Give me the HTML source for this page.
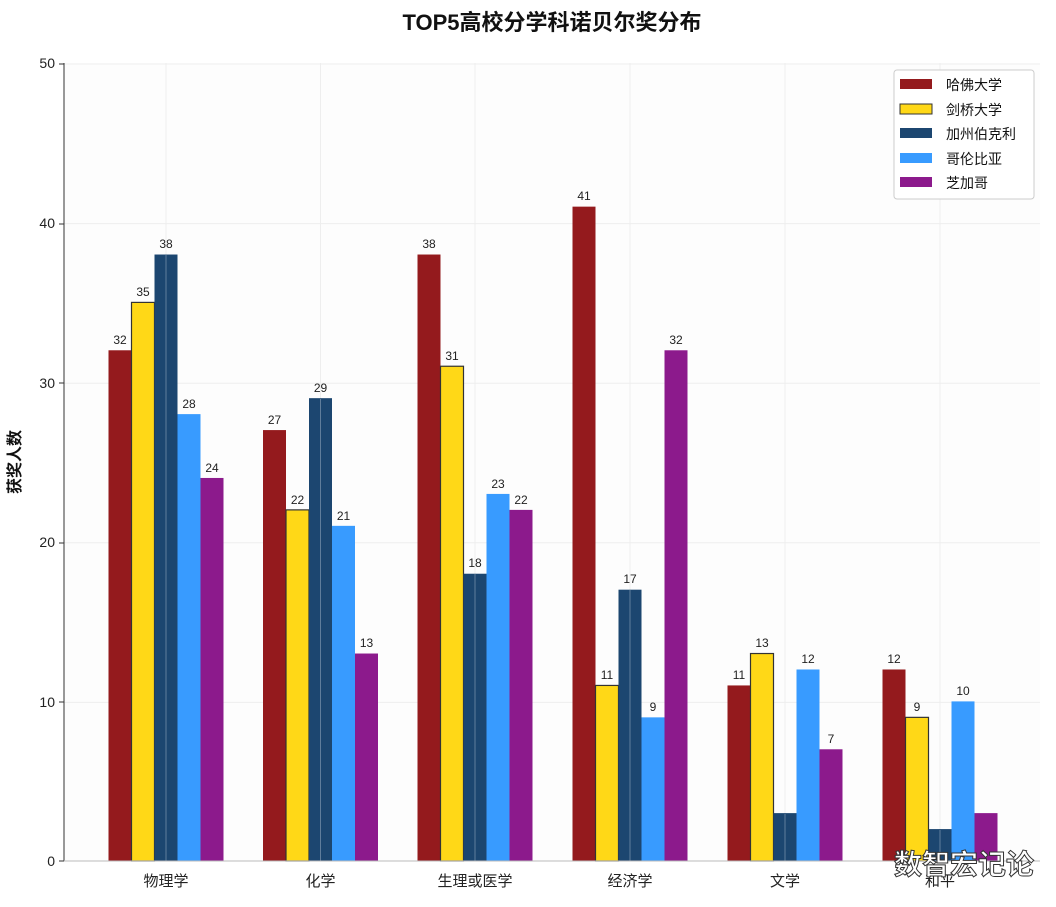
<!DOCTYPE html>
<html><head><meta charset="utf-8"><style>
body{margin:0;background:#fff;}
text{font-family:"Liberation Sans","Noto Sans CJK SC",sans-serif;}
</style></head><body>
<svg width="1056" height="902" xmlns="http://www.w3.org/2000/svg">
<rect width="1056" height="902" fill="#fff"/>
<rect x="64" y="63" width="976" height="798" fill="#fdfdfd"/>
<g stroke="#eeeeee" stroke-width="1">
<line x1="64" x2="1040" y1="702.4" y2="702.4"/><line x1="64" x2="1040" y1="542.8" y2="542.8"/><line x1="64" x2="1040" y1="383.2" y2="383.2"/><line x1="64" x2="1040" y1="223.6" y2="223.6"/><line x1="64" x2="1040" y1="64" y2="64"/>
<line x1="166" x2="166" y1="63" y2="861"/><line x1="320.5" x2="320.5" y1="63" y2="861"/><line x1="475" x2="475" y1="63" y2="861"/><line x1="630" x2="630" y1="63" y2="861"/><line x1="785" x2="785" y1="63" y2="861"/><line x1="940" x2="940" y1="63" y2="861"/>
</g>
<g fill="#941a1d">
<rect x="108.5" y="350.28" width="23" height="510.72"/>
<rect x="263" y="430.08" width="23" height="430.92"/>
<rect x="417.5" y="254.52" width="23" height="606.48"/>
<rect x="572.5" y="206.64" width="23" height="654.36"/>
<rect x="727.5" y="685.44" width="23" height="175.56"/>
<rect x="882.5" y="669.48" width="23" height="191.52"/>
</g>
<g fill="#ffd817" stroke="#333" stroke-width="1.2">
<rect x="131.5" y="302.4" width="23" height="558.6"/>
<rect x="286" y="509.88" width="23" height="351.12"/>
<rect x="440.5" y="366.24" width="23" height="494.76"/>
<rect x="595.5" y="685.44" width="23" height="175.56"/>
<rect x="750.5" y="653.52" width="23" height="207.48"/>
<rect x="905.5" y="717.36" width="23" height="143.64"/>
</g>
<g fill="#1c4670">
<rect x="154.5" y="254.52" width="23" height="606.48"/>
<rect x="309" y="398.16" width="23" height="462.84"/>
<rect x="463.5" y="573.72" width="23" height="287.28"/>
<rect x="618.5" y="589.68" width="23" height="271.32"/>
<rect x="773.5" y="813.12" width="23" height="47.88"/>
<rect x="928.5" y="829.08" width="23" height="31.92"/>
</g>
<g fill="#389bff">
<rect x="177.5" y="414.12" width="23" height="446.88"/>
<rect x="332" y="525.84" width="23" height="335.16"/>
<rect x="486.5" y="493.92" width="23" height="367.08"/>
<rect x="641.5" y="717.36" width="23" height="143.64"/>
<rect x="796.5" y="669.48" width="23" height="191.52"/>
<rect x="951.5" y="701.4" width="23" height="159.6"/>
</g>
<g fill="#8c1a8c">
<rect x="200.5" y="477.96" width="23" height="383.04"/>
<rect x="355" y="653.52" width="23" height="207.48"/>
<rect x="509.5" y="509.88" width="23" height="351.12"/>
<rect x="664.5" y="350.28" width="23" height="510.72"/>
<rect x="819.5" y="749.28" width="23" height="111.72"/>
<rect x="974.5" y="813.12" width="23" height="47.88"/>
</g>
<g stroke="#ffffff" stroke-opacity="0.3" stroke-width="1">
<line x1="166" x2="166" y1="255" y2="861"/><line x1="320.5" x2="320.5" y1="399" y2="861"/><line x1="475" x2="475" y1="574" y2="861"/><line x1="630" x2="630" y1="590" y2="861"/><line x1="785" x2="785" y1="814" y2="861"/><line x1="940" x2="940" y1="830" y2="861"/>
</g>
<g font-size="12" fill="#222" text-anchor="middle">
<text x="120" y="344">32</text><text x="143" y="296">35</text><text x="166" y="248">38</text><text x="189" y="408">28</text><text x="212" y="472">24</text>
<text x="274.5" y="424">27</text><text x="297.5" y="504">22</text><text x="320.5" y="392">29</text><text x="343.5" y="520">21</text><text x="366.5" y="647">13</text>
<text x="429" y="248">38</text><text x="452" y="360">31</text><text x="475" y="567">18</text><text x="498" y="488">23</text><text x="521" y="504">22</text>
<text x="584" y="200">41</text><text x="607" y="679">11</text><text x="630" y="583">17</text><text x="653" y="711">9</text><text x="676" y="344">32</text>
<text x="739" y="679">11</text><text x="762" y="647">13</text><text x="808" y="663">12</text><text x="831" y="743">7</text>
<text x="894" y="663">12</text><text x="917" y="711">9</text><text x="963" y="695">10</text>
</g>
<line x1="64" y1="63" x2="64" y2="861" stroke="#333" stroke-width="1"/>
<line x1="64" y1="861" x2="1040" y2="861" stroke="#bbb" stroke-width="1"/>
<g font-size="14" fill="#222" text-anchor="end">
<text x="55" y="866">0</text><text x="55" y="707">10</text><text x="55" y="547">20</text><text x="55" y="388">30</text><text x="55" y="228">40</text><text x="55" y="68">50</text>
</g>
<g stroke="#333"><line x1="59" x2="64" y1="861" y2="861"/><line x1="59" x2="64" y1="702" y2="702"/><line x1="59" x2="64" y1="543" y2="543"/><line x1="59" x2="64" y1="383" y2="383"/><line x1="59" x2="64" y1="224" y2="224"/><line x1="59" x2="64" y1="64" y2="64"/></g>
<g font-size="15" fill="#222" text-anchor="middle">
<text x="166" y="886">物理学</text><text x="320.5" y="886">化学</text><text x="475" y="886">生理或医学</text><text x="630" y="886">经济学</text><text x="785" y="886">文学</text><text x="940" y="886">和平</text>
</g>
<text transform="translate(20,462) rotate(-90)" font-size="16" font-weight="bold" text-anchor="middle" fill="#111">获奖人数</text>
<text x="552" y="30" font-size="22" font-weight="bold" text-anchor="middle" fill="#111">TOP5高校分学科诺贝尔奖分布</text>
<g>
<rect x="894" y="70" width="140" height="129" rx="3" fill="#fff" stroke="#ccc"/>
<rect x="900" y="79" width="32" height="10" fill="#941a1d"/>
<rect x="900" y="104" width="32" height="10" fill="#ffd817" stroke="#333"/>
<rect x="900" y="128" width="32" height="10" fill="#1c4670"/>
<rect x="900" y="153" width="32" height="10" fill="#389bff"/>
<rect x="900" y="177" width="32" height="10" fill="#8c1a8c"/>
<g font-size="14" fill="#111"><text x="946" y="90">哈佛大学</text><text x="946" y="115">剑桥大学</text><text x="946" y="139">加州伯克利</text><text x="946" y="164">哥伦比亚</text><text x="946" y="188">芝加哥</text></g>
</g>
<text x="964" y="874" font-size="28" font-weight="bold" text-anchor="middle" fill="#fff" stroke="#333" stroke-width="1">数智宏记论</text>
</svg>
</body></html>
